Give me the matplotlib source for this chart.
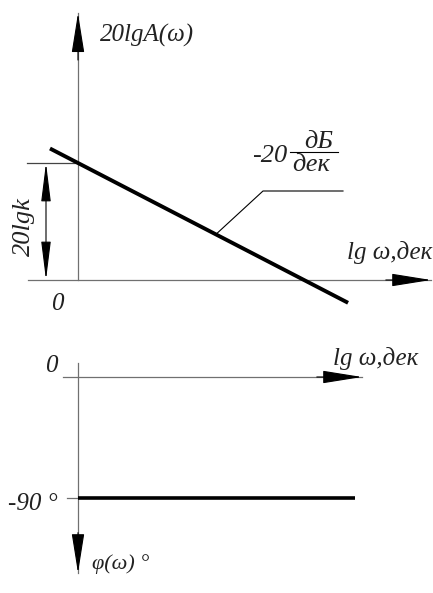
import matplotlib
matplotlib.use("Agg")
import matplotlib.pyplot as plt
import numpy as np

# Bode asymptotes of an integrating element W(s) = k / s
gain_db = 20.0                 # 20 lg k, dB
slope_db_per_dec = -20.0       # slope of the magnitude asymptote
lg_w_mag = [-0.124, 1.195]     # lg ω span of the magnitude line
phase_deg = -90.0              # constant phase
lg_w_phase = [0.0, 1.226]      # lg ω span of the phase line
leader_at = 0.61               # lg ω where the slope label points

W, H = 433, 593
fig = plt.figure(figsize=(W / 100, H / 100), dpi=100)
fig.patch.set_facecolor("white")

FONT = dict(family="Liberation Serif", style="italic", color="#222222")
AXC = "#707070"

# panel geometry (pixels): 1 decade = 226 px, origin column at x = 78
PX_DEC, X0 = 226.0, 78.0
xlim = (-X0 / PX_DEC, (W - X0) / PX_DEC)

top_h = 340
ax1 = fig.add_axes([0, 1 - top_h / H, 1, top_h / H])
ax2 = fig.add_axes([0, 0, 1, (H - top_h) / H])
db_per_px = 20.0 / 117.0
ax1.set_xlim(*xlim)
ax1.set_ylim(-(top_h - 280) * db_per_px, 280 * db_per_px)
deg_per_px = 90.0 / 121.0
ax2.set_xlim(*xlim)
ax2.set_ylim(-(H - 377) * deg_per_px, (377 - top_h) * deg_per_px)
for a in (ax1, ax2):
    a.set_axis_off()


def arrow_head(ax, tip, tail, length=2.5, width=0.4):
    ax.annotate("", xy=tip, xytext=tail,
                arrowprops=dict(arrowstyle=f"-|>,head_length={length},head_width={width}",
                                color="black", lw=0.8, shrinkA=0, shrinkB=0,
                                mutation_scale=10))


# --- magnitude panel -------------------------------------------------------
x_left, x_right = -0.221, 1.562
y_top = 45.6
ax1.plot([x_left, x_right], [0, 0], color=AXC, lw=0.9)
ax1.plot([0, 0], [0, y_top], color=AXC, lw=0.9)
arrow_head(ax1, (x_right, 0), (x_right - 0.2, 0))
arrow_head(ax1, (0, y_top), (0, y_top - 8))

# 20 lg k level mark and dimension arrow
ax1.plot([-0.226, 0], [gain_db, gain_db], color="#444444", lw=0.9)
x_dim = -0.1416
ax1.annotate("", xy=(x_dim, gain_db), xytext=(x_dim, 0),
             arrowprops=dict(arrowstyle="<|-|>,head_length=2.4,head_width=0.3",
                             color="black", lw=0.8, shrinkA=0, shrinkB=0,
                             mutation_scale=10))

lw_arr = np.array(lg_w_mag)
ax1.plot(lw_arr, gain_db + slope_db_per_dec * lw_arr, color="black", lw=2.8,
         solid_capstyle="butt")

# leader from the asymptote to the slope label
ly = gain_db + slope_db_per_dec * leader_at
ax1.plot([leader_at, (263 - X0) / PX_DEC, (343 - X0) / PX_DEC],
         [ly, (280 - 191) * db_per_px, (280 - 191) * db_per_px],
         color="black", lw=0.8)

# --- phase panel -----------------------------------------------------------
ax2.plot([(63 - X0) / PX_DEC, (362 - X0) / PX_DEC], [0, 0], color=AXC, lw=0.9)
ax2.plot([0, 0], [(377 - 363) * deg_per_px, -(573 - 377) * deg_per_px],
         color=AXC, lw=0.9)
arrow_head(ax2, ((362 - X0) / PX_DEC, 0), ((362 - X0) / PX_DEC - 0.2, 0))
arrow_head(ax2, (0, -(573 - 377) * deg_per_px), (0, -(573 - 377) * deg_per_px + 30))
ax2.plot([(67 - X0) / PX_DEC, 0], [phase_deg, phase_deg], color=AXC, lw=0.9)
ax2.plot(lg_w_phase, [phase_deg, phase_deg], color="black", lw=2.6,
         solid_capstyle="butt")


# --- labels (pixel placement) ---------------------------------------------
def label(x, y, s, size=18, ha="left", va="baseline", **kw):
    fig.text(x / W, 1 - y / H, s, fontsize=size, ha=ha, va=va, **FONT, **kw)


label(100, 42, "20lgA(ω)", size=18)
label(24, 227, "20lgk", size=19, ha="center", va="center", rotation=90)
label(57, 310, "0", size=18, ha="center")
label(347, 259, "lg ω,дек", size=18)
label(287, 162, "-20", size=19, ha="right")
label(319, 148, "дБ", size=19, ha="center")
fig.add_artist(plt.Line2D([290 / W, 338 / W], [1 - 152 / H, 1 - 152 / H],
                          color="black", lw=0.8))
label(311, 171, "дек", size=19, ha="center")

label(51, 372, "0", size=18, ha="center")
label(333, 365, "lg ω,дек", size=18)
label(8, 510, "-90 °", size=18)
label(92, 569, "φ(ω) °", size=16)

fig.savefig("out.png", dpi=100, facecolor="white")
